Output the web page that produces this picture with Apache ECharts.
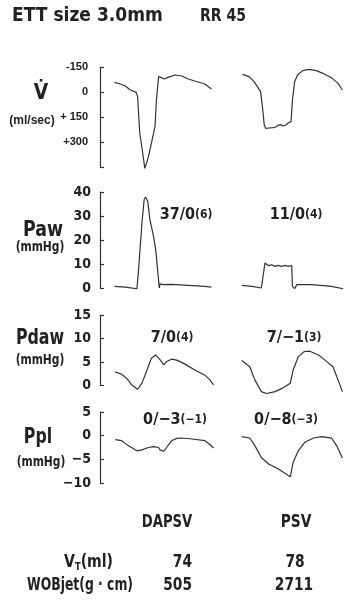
<!DOCTYPE html>
<html>
<head>
<meta charset="utf-8">
<script src="https://cdn.jsdelivr.net/npm/echarts@6/dist/echarts.min.js"></script>
<style>
  html, body { margin: 0; padding: 0; background: #fff; }
  #chart { width: 346px; height: 611px; }
</style>
</head>
<body>
<div id="chart"></div>
<script>
// time in ms, DAPSV breath on the left, PSV breath on the right
const flowDapsv = [[200,-58],[280,-48],[350,-36],[420,-12],[500,2],[520,28],[530,108],[550,246],[590,366],[620,458],[670,388],[710,308],[760,208],[780,48],[810,-92],[840,-88],[890,-78],[940,-88],[1040,-102],[1130,-96],[1220,-78],[1310,-66],[1450,-48],[1540,-18]];
const flowPsv = [[1970,-106],[2060,-92],[2130,-62],[2190,-22],[2220,-2],[2250,108],[2270,198],[2290,218],[2310,206],[2340,216],[2360,204],[2390,214],[2410,202],[2430,210],[2460,200],[2480,208],[2500,196],[2530,204],[2550,192],[2570,198],[2600,186],[2640,178],[2660,48],[2690,-62],[2730,-102],[2800,-128],[2890,-136],[2990,-128],[3080,-112],[3210,-82],[3290,-52],[3350,-12]];

const pawDapsv = [[200,0.7],[350,0.4],[510,-0.3],[530,6.4],[580,27.2],[610,36.8],[630,37.9],[660,36.1],[690,28.5],[740,21.5],[770,16],[780,15.3],[800,6.4],[820,0],[830,1.7],[880,1.4],[990,1.5],[1220,1.1],[1450,0.7],[1540,0.4]];
const pawPsv = [[1960,1.1],[2100,0.7],[2230,0],[2260,6.2],[2280,10.4],[2300,9.7],[2330,9.3],[2370,9.7],[2420,9.0],[2460,9.4],[2510,9.0],[2560,9.4],[2600,9.0],[2650,9.3],[2660,0.7],[2690,-0.3],[2720,1.4],[2930,1.4],[3200,0.7],[3360,-0.3]];

const pdawDapsv = [[210,2.9],[300,2.4],[370,1.5],[440,0.1],[520,-0.8],[580,0.5],[650,3.3],[710,5.8],[770,6.5],[800,6.0],[820,5.8],[840,5.3],[880,4.4],[920,5.1],[990,5.6],[1060,5.4],[1170,4.6],[1310,3.3],[1450,2.2],[1520,1.2],[1570,0.1]];
const pdawPsv = [[1960,5.3],[2070,4.0],[2140,1.2],[2230,-1.3],[2300,-1.7],[2420,-1.3],[2530,-0.5],[2630,0.5],[2670,3.3],[2740,6.1],[2820,7.2],[2900,7.3],[3020,6.5],[3110,5.4],[3220,4.0],[3290,1.2],[3350,-1.3]];

const pplDapsv = [[210,-0.85],[300,-1.06],[390,-2.1],[510,-3.2],[580,-3.0],[670,-2.5],[740,-2.3],[810,-2.5],[830,-3.0],[850,-2.7],[880,-3.3],[920,-2.5],[990,-1.06],[1060,-0.57],[1130,-0.49],[1270,-0.7],[1450,-1.06],[1510,-1.75],[1570,-2.6]];
const pplPsv = [[1960,-0.2],[2070,-0.5],[2140,-2.1],[2230,-4.6],[2330,-6.0],[2460,-7.0],[2630,-8.7],[2670,-5.6],[2740,-3.2],[2830,-1.4],[2950,-0.5],[3060,-0.2],[3200,-0.5],[3270,-2.1],[3350,-4.7]];

const flowTicks = { '-150': '-150', '0': '0', '150': '+ 150', '300': '+300', '450': '' };
const pplTicks = { '5': '5', '0': '0', '-5': '\u22125', '-10': '\u221210' };

const pawNotes = ['37/0', '(6)', '11/0', '(4)'];
const pdawNotes = ['7/0', '(4)', '7/\u22121', '(3)'];
const pplNotes = ['0/\u22123', '(\u22121)', '0/\u22128', '(\u22123)'];

const modes = ['DAPSV', 'PSV'];
const vtValues = ['74', '78'];
const wobValues = ['505', '2711'];

const narrow = "'Liberation Sans Narrow', 'DejaVu Sans Condensed', sans-serif";
const ink = '#222';
const lineInk = '#333';

const chart = echarts.init(document.getElementById('chart'));

const panels = [
  { top: 67, height: 100, min: -150, max: 450, interval: 150, inverse: true, fmt: (v) => flowTicks[v] ?? '', font: "'Liberation Sans', Arial, sans-serif", size: 11, margin: 12, data: [flowDapsv, flowPsv] },
  { top: 192, height: 96, min: 0, max: 40, interval: 10, inverse: false, fmt: (v) => String(v), font: narrow, size: 14, margin: 9, data: [pawDapsv, pawPsv] },
  { top: 315, height: 70.5, min: 0, max: 15, interval: 5, inverse: false, fmt: (v) => String(v), font: narrow, size: 14, margin: 9, data: [pdawDapsv, pdawPsv] },
  { top: 412, height: 71, min: -10, max: 5, interval: 5, inverse: false, fmt: (v) => pplTicks[v] ?? String(v), font: narrow, size: 14, margin: 9, data: [pplDapsv, pplPsv] }
];

const grid = panels.map((p) => ({ left: 100, right: 0, top: p.top, height: p.height }));
const xAxis = panels.map((p, i) => ({ type: 'value', gridIndex: i, min: 0, max: 3400, show: false }));
const yAxis = panels.map((p, i) => ({
  type: 'value', gridIndex: i, min: p.min, max: p.max, interval: p.interval, inverse: p.inverse,
  splitLine: { show: false },
  axisLine: { show: true, lineStyle: { color: lineInk, width: 1.2 } },
  axisTick: { show: true, inside: true, length: 4, lineStyle: { color: lineInk, width: 1.2 } },
  axisLabel: { color: ink, fontWeight: 'bold', fontFamily: p.font, fontSize: p.size, margin: p.margin, formatter: p.fmt }
}));

const series = [];
panels.forEach((p, i) => {
  p.data.forEach((d) => {
    series.push({
      type: 'line', xAxisIndex: i, yAxisIndex: i, data: d, showSymbol: false, clip: false,
      lineStyle: { color: lineInk, width: 1.2 }, animation: false
    });
  });
});

// narrow the condensed face a bit with scaleX, the anchor point stays put
function txt(x, y, text, opts, sx) {
  return {
    type: 'text', x: x, y: y, scaleX: sx || 1, silent: true,
    style: Object.assign({ text: text, fill: ink, fontWeight: 'bold', fontFamily: narrow, fontSize: 15, align: 'center', verticalAlign: 'middle' }, opts || {})
  };
}

function note(x, y, main, small) {
  return {
    type: 'text', x: x, y: y, silent: true,
    style: {
      text: main + '{s|' + small + '}', fill: ink, fontWeight: 'bold', fontFamily: narrow, fontSize: 16,
      align: 'center', verticalAlign: 'middle',
      rich: { s: { fontSize: 12, fontWeight: 'bold', fontFamily: narrow, fill: ink } }
    }
  };
}

const graphic = [
  txt(12, 16, 'ETT size 3.0mm', { align: 'left', fontSize: 19 }),
  txt(200, 17, 'RR 45', { align: 'left', fontSize: 17 }, 0.92),

  txt(41, 93, 'V\u0307', { fontSize: 22, fontFamily: "'DejaVu Sans', sans-serif" }, 0.85),
  txt(32, 121, '(ml/sec)', { fontSize: 12, fontFamily: "'Liberation Sans', Arial, sans-serif" }),
  txt(43, 230, 'Paw', { fontSize: 22 }, 0.88),
  txt(40, 247, '(mmHg)', { fontSize: 14 }, 0.85),
  txt(40, 338, 'Pdaw', { fontSize: 22 }, 0.8),
  txt(40, 360, '(mmHg)', { fontSize: 14 }, 0.85),
  txt(38, 437, 'Ppl', { fontSize: 22 }, 0.8),
  txt(41, 462, '(mmHg)', { fontSize: 14 }, 0.85),

  note(186, 215, pawNotes[0], pawNotes[1]),
  note(296, 215, pawNotes[2], pawNotes[3]),
  note(172, 338, pdawNotes[0], pdawNotes[1]),
  note(294, 338, pdawNotes[2], pdawNotes[3]),
  note(175, 420, pplNotes[0], pplNotes[1]),
  note(286, 420, pplNotes[2], pplNotes[3]),

  txt(167, 523, modes[0], { fontSize: 17 }, 0.86),
  txt(296, 523, modes[1], { fontSize: 17 }, 0.9),
  {
    type: 'text', x: 113, y: 563, scaleX: 0.92, silent: true,
    style: {
      text: 'V{sub|T}(ml)', fill: ink, fontWeight: 'bold', fontFamily: narrow, fontSize: 17, align: 'right', verticalAlign: 'middle',
      rich: { sub: { fontSize: 10, fontWeight: 'bold', fontFamily: narrow, fill: ink, padding: [8, 0, 0, 0] } }
    }
  },
  txt(192, 563, vtValues[0], { fontSize: 17, align: 'right' }, 0.9),
  txt(295, 563, vtValues[1], { fontSize: 17 }, 0.9),
  txt(133, 586, 'WOBjet(g \u00b7 cm)', { fontSize: 17, align: 'right' }, 0.81),
  txt(192, 586, wobValues[0], { fontSize: 17, align: 'right' }, 0.9),
  txt(294, 586, wobValues[1], { fontSize: 17 }, 0.9)
];

chart.setOption({
  animation: false,
  backgroundColor: '#fff',
  grid: grid,
  xAxis: xAxis,
  yAxis: yAxis,
  series: series,
  graphic: graphic
});
</script>
</body>
</html>
